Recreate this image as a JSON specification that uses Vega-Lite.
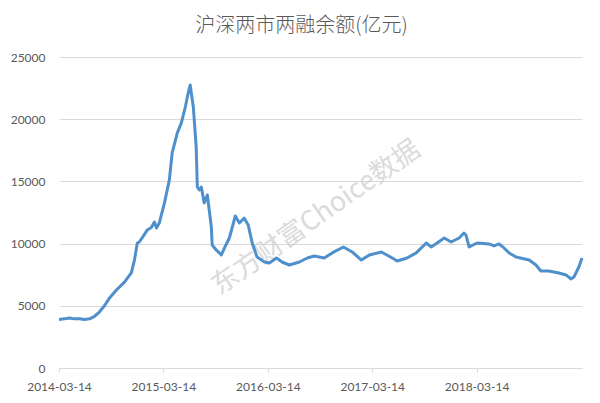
{
  "$schema": "https://vega.github.io/schema/vega-lite/v6.json",
  "autosize": "none",
  "width": 523,
  "height": 311,
  "padding": {"left": 59, "top": 57, "right": 18, "bottom": 35},
  "background": "white",
  "title": {
    "text": "沪深两市两融余额(亿元)",
    "font": "Noto Sans CJK SC",
    "fontSize": 20,
    "fontWeight": 300,
    "color": "#595959",
    "anchor": "middle",
    "dx": -19,
    "offset": 15
  },
  "config": {"view": {"stroke": null}},
  "layer": [
    {
      "data": {"values": [{"date": "2016-08-30", "value": 12060, "t": "东方财富Choice数据"}]},
      "mark": {"type": "text", "angle": -35, "fontSize": 27, "font": "Noto Sans CJK SC", "color": "#cccccc", "opacity": 0.7},
      "encoding": {
        "x": {"field": "date", "type": "temporal"},
        "y": {"field": "value", "type": "quantitative"},
        "text": {"field": "t"}
      }
    },
    {
      "data": {"values": [
        {"date": "2014-03-14", "value": 3900},
        {"date": "2014-04-02", "value": 3950},
        {"date": "2014-04-20", "value": 4020},
        {"date": "2014-05-07", "value": 3950},
        {"date": "2014-05-25", "value": 3960},
        {"date": "2014-06-11", "value": 3900},
        {"date": "2014-06-29", "value": 3950},
        {"date": "2014-07-16", "value": 4150},
        {"date": "2014-08-02", "value": 4500},
        {"date": "2014-08-20", "value": 5000},
        {"date": "2014-09-06", "value": 5600},
        {"date": "2014-10-01", "value": 6270},
        {"date": "2014-10-29", "value": 6900},
        {"date": "2014-11-22", "value": 7640},
        {"date": "2014-12-03", "value": 8680},
        {"date": "2014-12-13", "value": 10050},
        {"date": "2014-12-20", "value": 10130},
        {"date": "2015-01-03", "value": 10600},
        {"date": "2015-01-17", "value": 11100},
        {"date": "2015-01-31", "value": 11300},
        {"date": "2015-02-11", "value": 11740},
        {"date": "2015-02-18", "value": 11260},
        {"date": "2015-02-28", "value": 11660},
        {"date": "2015-03-18", "value": 13270},
        {"date": "2015-04-04", "value": 15100},
        {"date": "2015-04-14", "value": 17290},
        {"date": "2015-05-02", "value": 18900},
        {"date": "2015-05-16", "value": 19700},
        {"date": "2015-05-30", "value": 20980},
        {"date": "2015-06-06", "value": 21790},
        {"date": "2015-06-16", "value": 22750},
        {"date": "2015-06-27", "value": 20980},
        {"date": "2015-07-07", "value": 17770},
        {"date": "2015-07-11", "value": 14550},
        {"date": "2015-07-18", "value": 14310},
        {"date": "2015-07-25", "value": 14550},
        {"date": "2015-08-04", "value": 13270},
        {"date": "2015-08-15", "value": 13910},
        {"date": "2015-08-29", "value": 11340},
        {"date": "2015-09-01", "value": 9890},
        {"date": "2015-09-15", "value": 9490},
        {"date": "2015-10-03", "value": 9090},
        {"date": "2015-10-17", "value": 9800},
        {"date": "2015-10-31", "value": 10450},
        {"date": "2015-11-21", "value": 12220},
        {"date": "2015-12-05", "value": 11660},
        {"date": "2015-12-22", "value": 12060},
        {"date": "2016-01-05", "value": 11500},
        {"date": "2016-01-19", "value": 10050},
        {"date": "2016-02-05", "value": 8920},
        {"date": "2016-03-02", "value": 8520},
        {"date": "2016-03-19", "value": 8440},
        {"date": "2016-04-13", "value": 8840},
        {"date": "2016-05-04", "value": 8500},
        {"date": "2016-05-28", "value": 8280},
        {"date": "2016-07-02", "value": 8520},
        {"date": "2016-07-30", "value": 8840},
        {"date": "2016-08-23", "value": 9000},
        {"date": "2016-09-27", "value": 8840},
        {"date": "2016-10-25", "value": 9250},
        {"date": "2016-12-03", "value": 9730},
        {"date": "2017-01-03", "value": 9330},
        {"date": "2017-02-04", "value": 8680},
        {"date": "2017-03-04", "value": 9090},
        {"date": "2017-04-15", "value": 9330},
        {"date": "2017-05-23", "value": 8840},
        {"date": "2017-06-09", "value": 8600},
        {"date": "2017-07-14", "value": 8840},
        {"date": "2017-08-15", "value": 9250},
        {"date": "2017-09-19", "value": 10050},
        {"date": "2017-10-06", "value": 9730},
        {"date": "2017-10-27", "value": 10050},
        {"date": "2017-11-21", "value": 10450},
        {"date": "2017-12-15", "value": 10130},
        {"date": "2018-01-12", "value": 10450},
        {"date": "2018-01-29", "value": 10850},
        {"date": "2018-02-05", "value": 10690},
        {"date": "2018-02-16", "value": 9730},
        {"date": "2018-03-16", "value": 10050},
        {"date": "2018-04-27", "value": 9970},
        {"date": "2018-05-14", "value": 9810},
        {"date": "2018-06-01", "value": 9970},
        {"date": "2018-06-18", "value": 9650},
        {"date": "2018-07-06", "value": 9250},
        {"date": "2018-07-30", "value": 8920},
        {"date": "2018-09-14", "value": 8680},
        {"date": "2018-10-08", "value": 8280},
        {"date": "2018-10-25", "value": 7800},
        {"date": "2018-11-22", "value": 7800},
        {"date": "2018-12-27", "value": 7640},
        {"date": "2019-01-21", "value": 7480},
        {"date": "2019-02-07", "value": 7160},
        {"date": "2019-02-18", "value": 7320},
        {"date": "2019-03-07", "value": 8120},
        {"date": "2019-03-18", "value": 8840}
      ]},
      "mark": {"type": "line", "color": "#4F8FCC", "strokeWidth": 3, "strokeJoin": "round"},
      "encoding": {
        "x": {
          "field": "date", "type": "temporal",
          "scale": {"domain": ["2014-03-14", "2019-03-18"]},
          "axis": {
            "title": null,
            "values": [
              {"year": 2014, "month": 3, "date": 14},
              {"year": 2015, "month": 3, "date": 14},
              {"year": 2016, "month": 3, "date": 14},
              {"year": 2017, "month": 3, "date": 14},
              {"year": 2018, "month": 3, "date": 14}
            ],
            "format": "%Y-%m-%d",
            "grid": false,
            "domainColor": "#d9d9d9",
            "tickColor": "#d9d9d9",
            "tickSize": 4,
            "labelPadding": 9,
            "labelFont": "Lato",
            "labelFontSize": 12,
            "labelColor": "#595959",
            "labelFlush": false
          }
        },
        "y": {
          "field": "value", "type": "quantitative",
          "scale": {"domain": [0, 25000], "nice": false},
          "axis": {
            "title": null,
            "values": [0, 5000, 10000, 15000, 20000, 25000],
            "format": "d",
            "domain": false,
            "ticks": false,
            "gridColor": "#d9d9d9",
            "labelPadding": 14,
            "labelFont": "Lato",
            "labelFontSize": 12,
            "labelColor": "#595959"
          }
        }
      }
    }
  ]
}
